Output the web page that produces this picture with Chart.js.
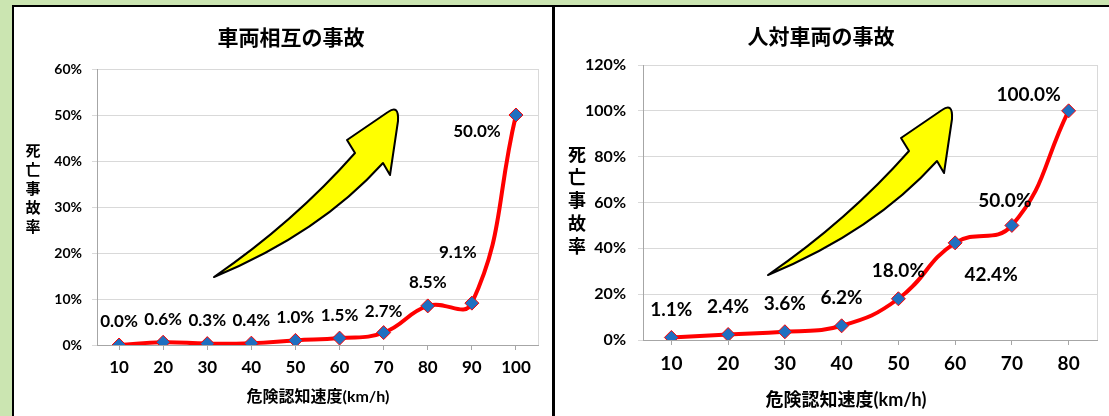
<!DOCTYPE html>
<html lang="ja">
<head>
<meta charset="utf-8">
<title>危険認知速度と死亡事故率</title>
<script src="https://cdn.jsdelivr.net/npm/chart.js@4.4.1/dist/chart.umd.min.js"></script>
<style>
  html, body { margin: 0; padding: 0; }
  body { width: 1109px; height: 416px; background: #cbe5b1; position: relative; overflow: hidden; }
  .panel { position: absolute; top: 5px; height: 430px; background: #fff; border: 2px solid #000; border-bottom: none; box-sizing: border-box; }
  #leftPanel { left: 12px; width: 541px; border-right-width: 1px; }
  #rightPanel { left: 553px; width: 580px; border-right: none; }
  canvas { position: absolute; left: 0; top: 0; }
</style>
</head>
<body>
<div class="panel" id="leftPanel"><canvas id="carChart" width="538" height="409"></canvas></div>
<div class="panel" id="rightPanel"><canvas id="pedChart" width="554" height="409"></canvas></div>
<script>
const speedsCar = ['10', '20', '30', '40', '50', '60', '70', '80', '90', '100'];
const rateCar = [0.0, 0.6, 0.3, 0.4, 1.0, 1.5, 2.7, 8.5, 9.1, 50.0];

const speedsPed = ['10', '20', '30', '40', '50', '60', '70', '80'];
const ratePed = [1.1, 2.4, 3.6, 6.2, 18.0, 42.4, 50.0, 100.0];

const yMaxCar = 60, yStepCar = 10;
const yMaxPed = 120, yStepPed = 20;

const FONT = "Lato, 'Noto Sans CJK JP', sans-serif";
Chart.defaults.font.family = FONT;
Chart.defaults.color = '#000';

// yellow swoosh arrow, drawn relative to its tail point
function drawArrow(ctx, x, y) {
  ctx.save();
  ctx.translate(x, y);
  ctx.beginPath();
  ctx.moveTo(0, 0);
  ctx.quadraticCurveTo(80, -55, 141, -124);
  ctx.lineTo(133, -137);
  ctx.lineTo(174, -165);
  ctx.quadraticCurveTo(185, -173, 184, -156);
  ctx.lineTo(176, -102);
  ctx.lineTo(169, -114);
  ctx.quadraticCurveTo(106, -44, 0, 0);
  ctx.closePath();
  ctx.fillStyle = '#ffff00';
  ctx.fill();
  ctx.lineWidth = 2;
  ctx.lineJoin = 'round';
  ctx.strokeStyle = '#000';
  ctx.stroke();
  ctx.restore();
}

const panelText = {
  id: 'panelText',
  beforeDatasetsDraw(chart, args, o) {
    const ctx = chart.ctx;
    const a = chart.chartArea;
    ctx.save();
    ctx.strokeStyle = '#d9d9d9';
    ctx.lineWidth = 1;
    ctx.beginPath();
    ctx.moveTo(a.right + 0.5, a.top);
    ctx.lineTo(a.right + 0.5, a.bottom);
    ctx.stroke();
    ctx.restore();
    drawArrow(ctx, o.arrowAt[0], o.arrowAt[1]);
  },
  afterDraw(chart, args, o) {
    const ctx = chart.ctx;
    ctx.save();
    ctx.fillStyle = '#000';
    ctx.textAlign = 'center';
    ctx.textBaseline = 'middle';

    ctx.font = `bold ${o.titleSize}px ${FONT}`;
    ctx.fillText(o.title, o.titlePos[0], o.titlePos[1]);

    ctx.font = `bold ${o.yTitleSize}px ${FONT}`;
    [...o.yTitle].forEach((ch, i) => {
      ctx.fillText(ch, o.yTitlePos[0], o.yTitlePos[1] + i * o.yTitleStep);
    });

    ctx.font = `bold ${o.xTitleSize}px ${FONT}`;
    ctx.fillText(o.xTitle, o.xTitlePos[0], o.xTitlePos[1]);

    // value labels next to each point
    const meta = chart.getDatasetMeta(0);
    const values = chart.data.datasets[0].data;
    ctx.font = `bold ${o.labelSize}px ${FONT}`;
    meta.data.forEach((pt, i) => {
      const off = o.labelOffsets[i] || [0, o.labelDy];
      ctx.fillText(values[i].toFixed(1) + '%', pt.x + off[0], pt.y + off[1]);
    });
    ctx.restore();
  }
};

function makeChart(id, labels, values, yMax, yStep, cfg) {
  return new Chart(document.getElementById(id), {
    type: 'line',
    data: {
      labels,
      datasets: [{
        data: values,
        borderColor: '#ff0000',
        borderWidth: 4,
        tension: 0.45,
        pointStyle: 'rectRot',
        pointRadius: 7,
        pointBackgroundColor: '#1f6fc0',
        pointBorderColor: '#ff0000',
        pointBorderWidth: 1
      }]
    },
    options: {
      responsive: false,
      animation: false,
      devicePixelRatio: 1,
      layout: { padding: { top: cfg.top, right: cfg.right, left: 0, bottom: 0 } },
      plugins: {
        legend: { display: false },
        tooltip: { enabled: false },
        panelText: cfg.text
      },
      scales: {
        x: {
          offset: true,
          grid: { drawOnChartArea: false, tickLength: 5, color: '#a6a6a6' },
          border: { color: '#a6a6a6' },
          ticks: { font: { size: cfg.xTickSize, weight: 'bold' }, padding: cfg.xTickPad, maxRotation: 0, autoSkip: false },
          afterFit(s) { s.height = cfg.xHeight; }
        },
        y: {
          min: 0,
          max: yMax,
          ticks: { stepSize: yStep, callback: v => v + '%', font: { size: cfg.yTickSize, weight: 'bold' }, padding: cfg.yTickPad },
          grid: { color: '#d9d9d9', tickLength: 5 },
          border: { color: '#a6a6a6' },
          afterFit(s) { s.width = cfg.yWidth; }
        }
      }
    },
    plugins: [panelText]
  });
}

makeChart('carChart', speedsCar, rateCar, yMaxCar, yStepCar, {
  top: 62, right: 14, xHeight: 71, yWidth: 83,
  xTickSize: 17, xTickPad: 7, yTickSize: 14, yTickPad: 10,
  text: {
    title: '車両相互の事故', titleSize: 21, titlePos: [277, 31],
    yTitle: '死亡事故率', yTitleSize: 15, yTitlePos: [19, 144], yTitleStep: 19,
    xTitle: '危険認知速度(km/h)', xTitleSize: 16, xTitlePos: [304, 390],
    labelSize: 17, labelDy: -23,
    labelOffsets: [null, null, null, null, null, null, [0, -21], null, [-14, -51], [-39, 17]],
    arrowAt: [200, 270]
  }
});

makeChart('pedChart', speedsPed, ratePed, yMaxPed, yStepPed, {
  top: 58, right: 12, xHeight: 76, yWidth: 88,
  xTickSize: 19, xTickPad: 7, yTickSize: 16, yTickPad: 12,
  text: {
    title: '人対車両の事故', titleSize: 21, titlePos: [266, 30],
    yTitle: '死亡事故率', yTitleSize: 18, yTitlePos: [22, 148], yTitleStep: 23,
    xTitle: '危険認知速度(km/h)', xTitleSize: 18, xTitlePos: [291, 393],
    labelSize: 19, labelDy: -28,
    labelOffsets: [null, null, null, null, null, [36, 32], [-7, -25], [-40, -16]],
    arrowAt: [213, 268]
  }
});
</script>
</body>
</html>
